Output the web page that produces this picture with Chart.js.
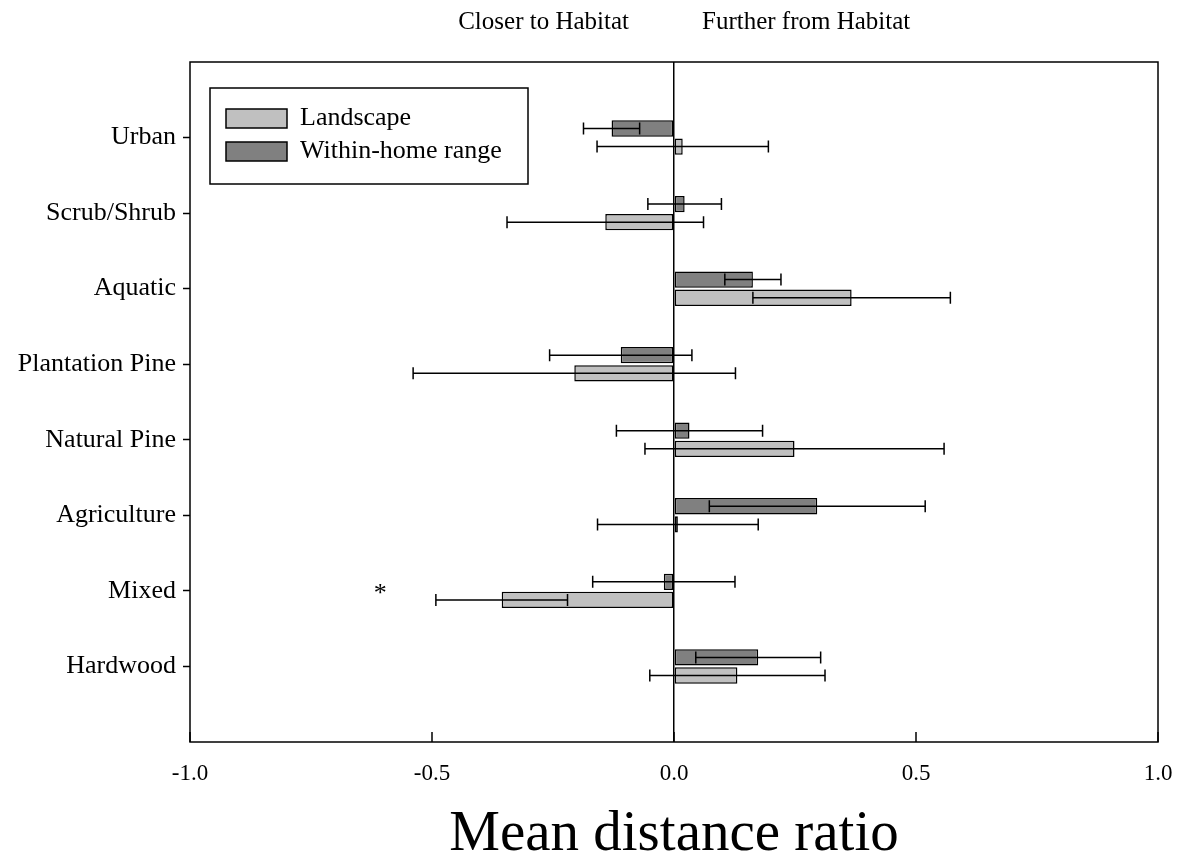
<!DOCTYPE html>
<html>
<head>
<meta charset="utf-8">
<script src="https://cdn.jsdelivr.net/npm/chart.js@4.4.1/dist/chart.umd.min.js"></script>
<style>
  html, body { margin: 0; padding: 0; background: #fff; }
  #wrap { width: 1178px; height: 865px; }
</style>
</head>
<body>
<div id="wrap"><canvas id="chart" width="1178" height="865"></canvas></div>
<script>
// values
const categories = ['Urban', 'Scrub/Shrub', 'Aquatic', 'Plantation Pine', 'Natural Pine', 'Agriculture', 'Mixed', 'Hardwood'];
const landscape = [0.018, -0.142, 0.367, -0.206, 0.249, 0.008, -0.356, 0.131];
const landscapeErr = [0.177, 0.203, 0.204, 0.333, 0.309, 0.166, 0.136, 0.181];
const homeRange = [-0.129, 0.022, 0.163, -0.110, 0.032, 0.296, -0.021, 0.174];
const homeRangeErr = [0.058, 0.076, 0.058, 0.147, 0.151, 0.223, 0.147, 0.129];
const xTicks = [-1.0, -0.5, 0.0, 0.5, 1.0];
const sideLabels = ['Closer to Habitat', 'Further from Habitat'];
const markers = [{ category: 'Mixed', x: -0.607, text: '*' }];

const FONT = "'Liberation Serif', 'Times New Roman', serif";
Chart.defaults.font.family = FONT;
Chart.defaults.color = '#000';

// empty slots above and below so the categories sit like in the original
const labels = [''].concat(categories, ['']);
const pad = arr => [null].concat(arr, [null]);

const errorBars = {
  id: 'errorBars',
  afterDatasetsDraw(chart) {
    const ctx = chart.ctx, x = chart.scales.x;
    ctx.save();
    ctx.strokeStyle = '#000';
    ctx.lineWidth = 1.5;
    chart.data.datasets.forEach((ds, di) => {
      const meta = chart.getDatasetMeta(di);
      meta.data.forEach((bar, i) => {
        const v = ds.data[i];
        if (v == null) return;
        const e = ds.errors[i];
        const y = bar.y;
        const x1 = x.getPixelForValue(v - e), x2 = x.getPixelForValue(v + e);
        ctx.beginPath();
        ctx.moveTo(x1, y); ctx.lineTo(x2, y);
        ctx.moveTo(x1, y - 6); ctx.lineTo(x1, y + 6);
        ctx.moveTo(x2, y - 6); ctx.lineTo(x2, y + 6);
        ctx.stroke();
      });
    });
    ctx.restore();
  }
};

const decorations = {
  id: 'decorations',
  afterDraw(chart) {
    const ctx = chart.ctx, a = chart.chartArea;
    const x = chart.scales.x, y = chart.scales.y;
    ctx.save();
    // frame
    ctx.strokeStyle = '#000';
    ctx.lineWidth = 1.5;
    ctx.strokeRect(a.left, a.top, a.right - a.left, a.bottom - a.top);
    // inward ticks on the x axis
    ctx.beginPath();
    xTicks.forEach(v => {
      const px = x.getPixelForValue(v);
      ctx.moveTo(px, a.bottom); ctx.lineTo(px, a.bottom - 10);
    });
    ctx.stroke();

    // legend box
    const lx = a.left + 20, ly = a.top + 26;
    ctx.fillStyle = '#fff';
    ctx.fillRect(lx, ly, 318, 96);
    ctx.strokeRect(lx, ly, 318, 96);
    const items = [chart.data.datasets[1], chart.data.datasets[0]];
    ctx.font = '26px ' + FONT;
    ctx.textBaseline = 'middle';
    ctx.textAlign = 'left';
    items.forEach((ds, i) => {
      const sy = ly + 21 + i * 33;
      ctx.fillStyle = ds.backgroundColor;
      ctx.fillRect(lx + 16, sy, 61, 19);
      ctx.strokeRect(lx + 16, sy, 61, 19);
      ctx.fillStyle = '#000';
      ctx.fillText(ds.label, lx + 90, sy + 9);
    });

    // labels above the plot
    const zero = x.getPixelForValue(0);
    ctx.font = '25px ' + FONT;
    ctx.textAlign = 'right';
    ctx.fillText(sideLabels[0], zero - 45, 22);
    ctx.textAlign = 'left';
    ctx.fillText(sideLabels[1], zero + 28, 22);

    // significance markers
    ctx.font = '26px ' + FONT;
    ctx.textAlign = 'center';
    markers.forEach(m => {
      ctx.fillText(m.text, x.getPixelForValue(m.x), y.getPixelForValue(labels.indexOf(m.category)) + 3);
    });
    ctx.restore();
  }
};

new Chart(document.getElementById('chart'), {
  type: 'bar',
  data: {
    labels: labels,
    datasets: [
      {
        label: 'Within-home range',
        data: pad(homeRange),
        errors: pad(homeRangeErr),
        backgroundColor: '#808080',
        borderColor: '#000',
        borderWidth: 1.5,
        borderSkipped: false
      },
      {
        label: 'Landscape',
        data: pad(landscape),
        errors: pad(landscapeErr),
        backgroundColor: '#c0c0c0',
        borderColor: '#000',
        borderWidth: 1.5,
        borderSkipped: false
      }
    ]
  },
  options: {
    indexAxis: 'y',
    responsive: false,
    animation: false,
    categoryPercentage: 0.48,
    barPercentage: 0.9,
    layout: { padding: { top: 62, right: 20, left: 0, bottom: 0 } },
    plugins: {
      legend: { display: false },
      tooltip: { enabled: false }
    },
    scales: {
      x: {
        type: 'linear',
        min: -1,
        max: 1,
        afterBuildTicks: s => { s.ticks = xTicks.map(v => ({ value: v })); },
        afterFit: s => { s.height = 123; s.paddingLeft = 0; s.paddingRight = 0; },
        border: { display: false },
        grid: {
          drawTicks: false,
          lineWidth: 1.5,
          color: c => (c.tick && c.tick.value === 0 ? '#000' : 'rgba(0,0,0,0)')
        },
        ticks: {
          padding: 18,
          font: { size: 23 },
          callback: v => Number(v).toFixed(1)
        },
        title: {
          display: true,
          text: 'Mean distance ratio',
          font: { size: 57, lineHeight: 1.0 },
          padding: { top: 0, bottom: 1 }
        }
      },
      y: {
        offset: false,
        afterFit: s => { s.width = 190; },
        border: { display: false },
        grid: {
          offset: false,
          drawOnChartArea: false,
          tickLength: 7,
          tickWidth: 1.5,
          tickColor: c => (c.index === 0 || c.index === labels.length - 1 ? 'rgba(0,0,0,0)' : '#000')
        },
        ticks: {
          autoSkip: false,
          padding: 7,
          font: { size: 26 }
        }
      }
    }
  },
  plugins: [errorBars, decorations]
});
</script>
</body>
</html>
